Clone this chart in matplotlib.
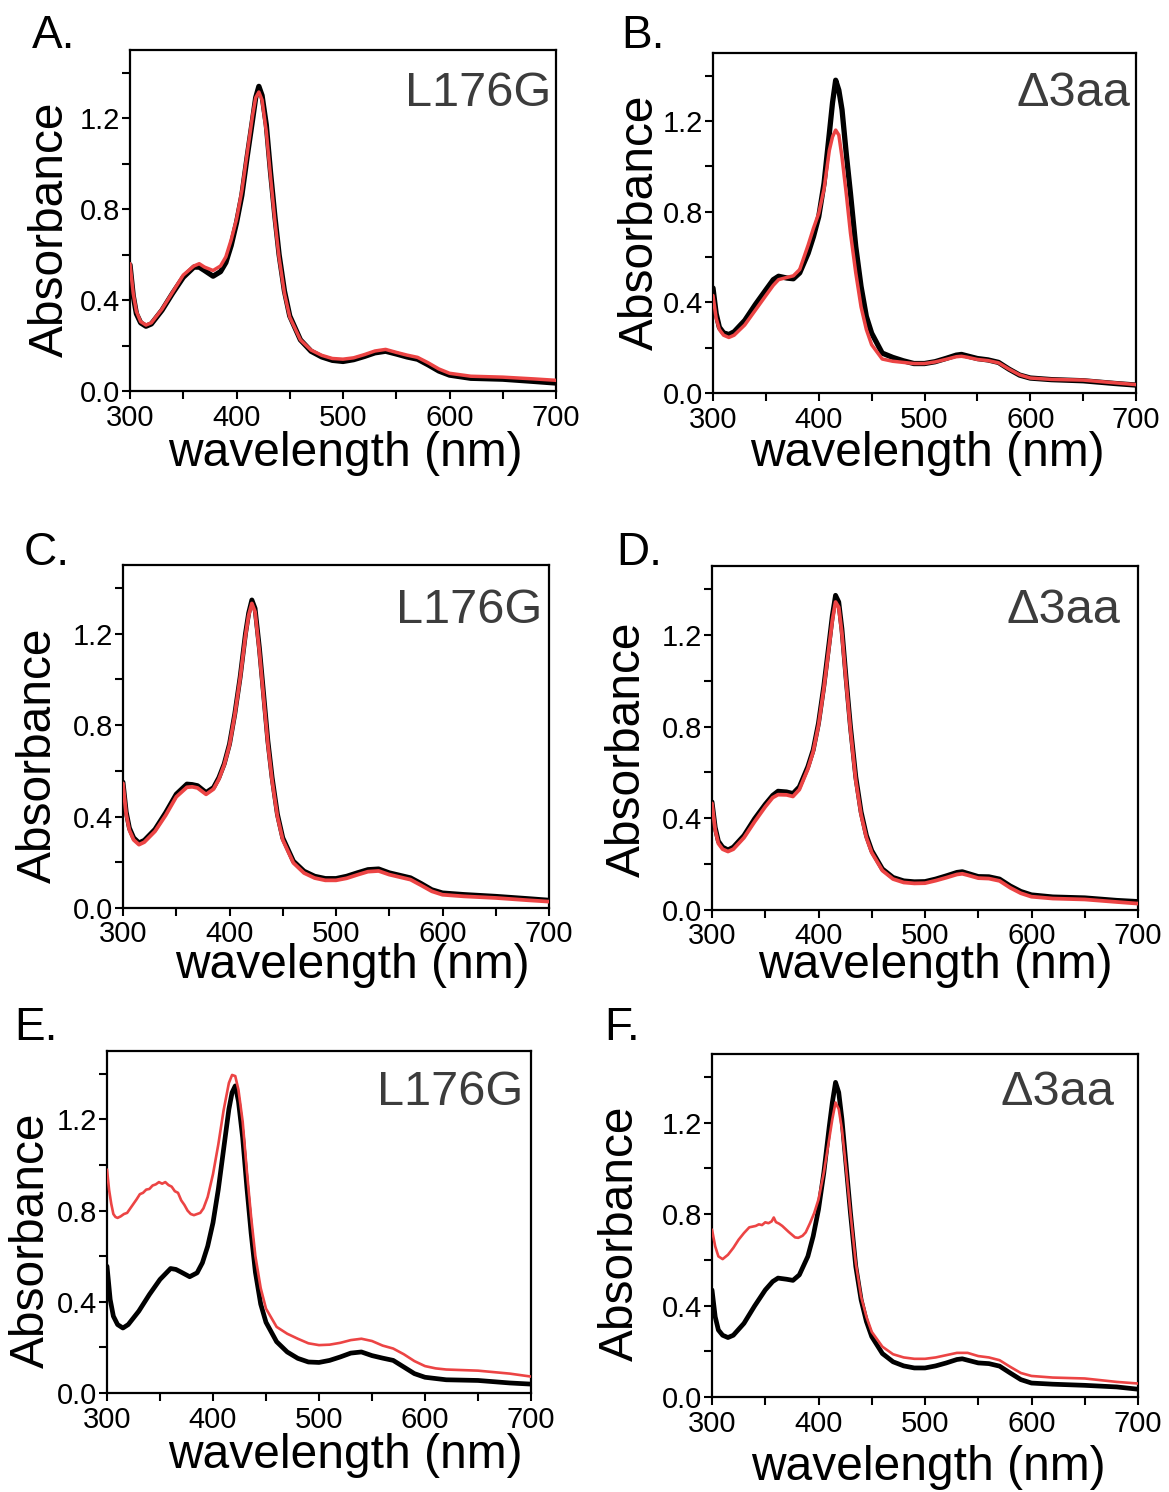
import matplotlib
matplotlib.use("Agg")
import matplotlib.pyplot as plt
from matplotlib.ticker import MultipleLocator, FixedLocator

plt.rcParams['font.family'] = ['Liberation Sans', 'DejaVu Sans']

# ---------------- data ----------------
wl_L = [300, 303, 306, 310, 315, 320, 330, 340, 350, 360, 365, 370, 378, 385, 390, 395,
        400, 405, 410, 415, 418, 421, 424, 428, 432, 436, 440, 445, 450, 460, 470, 480,
        490, 500, 510, 520, 530, 540, 550, 560, 570, 580, 590, 600, 620, 650, 680, 700]

wl_D = [300, 303, 306, 310, 315, 320, 330, 340, 350, 357, 362, 370, 376, 382, 390, 395,
        400, 405, 410, 413, 416, 419, 422, 426, 430, 435, 440, 445, 450, 460, 470, 480,
        490, 500, 510, 520, 530, 535, 540, 550, 560, 570, 580, 590, 600, 620, 650, 680, 700]

A_black = [0.555, 0.42, 0.34, 0.30, 0.285, 0.295, 0.355, 0.43, 0.50, 0.545, 0.545, 0.53, 0.505, 0.525, 0.565, 0.64,
           0.74, 0.86, 1.03, 1.19, 1.29, 1.34, 1.30, 1.17, 0.96, 0.77, 0.60, 0.44, 0.33, 0.225, 0.175, 0.15,
           0.135, 0.13, 0.138, 0.152, 0.168, 0.175, 0.163, 0.15, 0.14, 0.115, 0.088, 0.07, 0.056, 0.052, 0.042, 0.035]
A_red = [0.56, 0.43, 0.35, 0.305, 0.29, 0.30, 0.36, 0.435, 0.51, 0.55, 0.56, 0.545, 0.53, 0.55, 0.59, 0.665,
         0.755, 0.88, 1.045, 1.21, 1.29, 1.315, 1.28, 1.14, 0.94, 0.75, 0.585, 0.43, 0.325, 0.225, 0.18, 0.157,
         0.143, 0.14, 0.146, 0.16, 0.176, 0.183, 0.17, 0.158, 0.148, 0.124, 0.097, 0.078, 0.065, 0.061, 0.053, 0.047]

B_black = [0.463, 0.35, 0.29, 0.265, 0.258, 0.27, 0.32, 0.39, 0.455, 0.50, 0.515, 0.507, 0.504, 0.53, 0.617, 0.69,
           0.778, 0.925, 1.145, 1.28, 1.38, 1.336, 1.25, 1.057, 0.88, 0.646, 0.47, 0.338, 0.264, 0.176, 0.157, 0.142,
           0.13, 0.13, 0.138, 0.152, 0.167, 0.17, 0.164, 0.152, 0.146, 0.135, 0.105, 0.079, 0.066, 0.059, 0.054, 0.042, 0.035]
B_red = [0.43, 0.33, 0.28, 0.255, 0.245, 0.255, 0.30, 0.365, 0.43, 0.475, 0.50, 0.51, 0.517, 0.545, 0.653, 0.727,
         0.793, 0.90, 1.07, 1.13, 1.16, 1.138, 1.04, 0.88, 0.705, 0.53, 0.38, 0.28, 0.213, 0.15, 0.14, 0.135,
         0.13, 0.13, 0.137, 0.148, 0.16, 0.162, 0.158, 0.148, 0.143, 0.133, 0.105, 0.08, 0.066, 0.06, 0.057, 0.045, 0.037]

C_black = [0.55, 0.42, 0.35, 0.307, 0.285, 0.296, 0.344, 0.417, 0.498, 0.542, 0.54, 0.535, 0.505, 0.527, 0.57, 0.63,
           0.717, 0.85, 1.01, 1.2, 1.29, 1.347, 1.31, 1.14, 0.937, 0.732, 0.571, 0.41, 0.307, 0.205, 0.161, 0.139,
           0.129, 0.129, 0.139, 0.154, 0.168, 0.171, 0.154, 0.143, 0.132, 0.107, 0.08, 0.066, 0.059, 0.051, 0.041, 0.034]
C_red = [0.545, 0.41, 0.34, 0.298, 0.277, 0.288, 0.335, 0.405, 0.486, 0.528, 0.53, 0.525, 0.497, 0.52, 0.563, 0.625,
         0.712, 0.845, 1.005, 1.19, 1.28, 1.332, 1.295, 1.125, 0.92, 0.718, 0.557, 0.40, 0.298, 0.197, 0.153, 0.131,
         0.121, 0.121, 0.13, 0.145, 0.159, 0.162, 0.146, 0.135, 0.124, 0.099, 0.073, 0.058, 0.051, 0.044, 0.034, 0.028]

D_black = [0.471, 0.36, 0.30, 0.274, 0.262, 0.274, 0.325, 0.398, 0.461, 0.50, 0.518, 0.515, 0.508, 0.537, 0.625, 0.698,
           0.815, 0.977, 1.167, 1.284, 1.372, 1.343, 1.225, 1.006, 0.80, 0.581, 0.428, 0.325, 0.259, 0.179, 0.142, 0.127,
           0.123, 0.124, 0.135, 0.149, 0.164, 0.167, 0.16, 0.146, 0.145, 0.135, 0.105, 0.081, 0.066, 0.057, 0.053, 0.042, 0.037]
D_red = [0.465, 0.35, 0.29, 0.265, 0.255, 0.265, 0.315, 0.385, 0.45, 0.49, 0.503, 0.502, 0.495, 0.525, 0.615, 0.69,
         0.805, 0.965, 1.15, 1.262, 1.343, 1.32, 1.205, 0.99, 0.785, 0.565, 0.415, 0.315, 0.25, 0.172, 0.135, 0.12,
         0.116, 0.117, 0.128, 0.141, 0.155, 0.158, 0.152, 0.139, 0.137, 0.127, 0.097, 0.073, 0.058, 0.05, 0.046, 0.035, 0.028]

E_black = [0.556, 0.41, 0.337, 0.30, 0.285, 0.30, 0.359, 0.432, 0.498, 0.546, 0.542, 0.53, 0.51, 0.527, 0.571, 0.644,
           0.747, 0.893, 1.069, 1.245, 1.318, 1.347, 1.28, 1.12, 0.90, 0.70, 0.53, 0.39, 0.31, 0.225, 0.18, 0.152,
           0.136, 0.134, 0.143, 0.158, 0.175, 0.18, 0.164, 0.153, 0.143, 0.114, 0.085, 0.069, 0.058, 0.055, 0.044, 0.039]

wl_E_red = [300, 302, 304, 306, 308, 310, 313, 316, 319, 322, 325, 328, 331, 334, 337, 340,
            343, 346, 349, 352, 355, 358, 361, 364, 367, 370, 373, 376, 379, 382, 385, 388,
            391, 395, 400, 405, 410, 415, 418, 421, 424, 428, 432, 436, 440, 445, 450, 460,
            470, 480, 490, 500, 510, 520, 530, 540, 550, 560, 570, 580, 590, 600, 610, 620,
            650, 680, 700]
E_red = [0.98, 0.89, 0.83, 0.785, 0.772, 0.768, 0.775, 0.785, 0.79, 0.81, 0.83, 0.85, 0.872, 0.878, 0.892, 0.895,
         0.91, 0.915, 0.925, 0.918, 0.925, 0.912, 0.905, 0.885, 0.878, 0.845, 0.825, 0.80, 0.785, 0.78, 0.785, 0.79,
         0.81, 0.86, 0.96, 1.09, 1.24, 1.36, 1.395, 1.39, 1.33, 1.19, 0.97, 0.77, 0.60, 0.46, 0.37, 0.29,
         0.26, 0.238, 0.218, 0.21, 0.212, 0.22, 0.232, 0.238, 0.228, 0.208, 0.195, 0.17, 0.14, 0.118, 0.108, 0.103,
         0.098, 0.085, 0.072]

F_black = [0.468, 0.351, 0.293, 0.27, 0.26, 0.27, 0.322, 0.398, 0.468, 0.505, 0.52, 0.515, 0.51, 0.534, 0.615, 0.703,
           0.82, 0.981, 1.179, 1.288, 1.376, 1.332, 1.215, 1.01, 0.805, 0.571, 0.425, 0.33, 0.264, 0.19, 0.154, 0.136,
           0.127, 0.127, 0.136, 0.149, 0.164, 0.167, 0.161, 0.149, 0.146, 0.135, 0.105, 0.076, 0.061, 0.056, 0.051, 0.044, 0.034]

wl_F_red = [300, 303, 306, 310, 315, 320, 325, 330, 335, 338, 341, 344, 347, 350, 353, 356,
            358, 360, 363, 366, 369, 372, 375, 378, 381, 385, 388, 392, 396, 400, 405, 410,
            413, 416, 419, 422, 426, 430, 435, 440, 445, 450, 460, 470, 480, 490, 500, 510,
            520, 530, 540, 550, 560, 570, 580, 590, 600, 620, 650, 680, 700]
F_red = [0.732, 0.659, 0.615, 0.603, 0.622, 0.652, 0.688, 0.717, 0.742, 0.745, 0.748, 0.755, 0.752, 0.764, 0.76, 0.768,
         0.785, 0.765, 0.758, 0.748, 0.735, 0.722, 0.71, 0.698, 0.696, 0.705, 0.72, 0.76, 0.805, 0.864, 0.981, 1.127,
         1.215, 1.288, 1.259, 1.171, 0.996, 0.805, 0.586, 0.439, 0.351, 0.285, 0.22, 0.187, 0.173, 0.167, 0.167, 0.173,
         0.183, 0.193, 0.193, 0.179, 0.173, 0.161, 0.132, 0.105, 0.092, 0.085, 0.081, 0.066, 0.059]

panel_letters = ["A.", "B.", "C.", "D.", "E.", "F."]
panel_names = ["L176G", "\u03943aa", "L176G", "\u03943aa", "L176G", "\u03943aa"]
x_ticks = [300, 400, 500, 600, 700]
y_ticks = [0.0, 0.4, 0.8, 1.2]
y_tick_labels = ["0.0", "0.4", "0.8", "1.2"]
x_label = "wavelength (nm)"
y_label = "Absorbance"

series = [
    (wl_L, A_black, wl_L, A_red),
    (wl_D, B_black, wl_D, B_red),
    (wl_L, C_black, wl_L, C_red),
    (wl_D, D_black, wl_D, D_red),
    (wl_L, E_black, wl_E_red, E_red),
    (wl_D, F_black, wl_F_red, F_red),
]

# ---------------- layout (pixels) ----------------
W, H = 1169, 1492
# axes boxes: left, right, top, bottom
boxes = [(130, 556, 50, 391), (713, 1136, 53, 393),
         (123, 549, 565, 908), (712, 1138, 566, 910),
         (107, 531, 1051, 1393), (712, 1138, 1054, 1397)]
letter_pos = [(32, 48), (621, 48), (24, 565), (616, 565), (14, 1040), (604, 1040)]
name_pos = [(551, 106), (1130, 106), (542, 623), (1120, 623), (523, 1105), (1114, 1105)]
xlabel_pos = [(345, 454), (927, 454), (352, 966), (935, 966), (345, 1455), (928, 1468)]
ylabel_pos = [(50, 229), (640, 222), (38, 755), (627, 749), (31, 1240), (620, 1233)]
thick = [(3.8, 2.5), (3.8, 2.5), (3.5, 2.7), (3.5, 2.7), (3.4, 1.9), (3.4, 1.9)]

RED = '#EC4444'
fig = plt.figure(figsize=(W / 100, H / 100), dpi=100)

for i, (bx, (wb, yb, wr, yr)) in enumerate(zip(boxes, series)):
    l, r, t, b = bx
    ax = fig.add_axes([l / W, 1 - b / H, (r - l) / W, (b - t) / H])
    ax.plot(wb, yb, color='black', lw=thick[i][0], solid_capstyle='round', solid_joinstyle='round', zorder=2)
    ax.plot(wr, yr, color=RED, lw=thick[i][1], solid_capstyle='round', solid_joinstyle='round', zorder=3)
    ax.set_xlim(300, 700)
    ax.set_ylim(0, 1.5)
    ax.xaxis.set_major_locator(FixedLocator(x_ticks))
    ax.xaxis.set_minor_locator(MultipleLocator(50))
    ax.yaxis.set_major_locator(FixedLocator(y_ticks))
    ax.set_yticklabels(y_tick_labels)
    ax.yaxis.set_minor_locator(MultipleLocator(0.2))
    ax.tick_params(which='both', direction='out', length=6, width=1.5, top=False, right=False)
    ax.tick_params(axis='y', which='major', labelsize=21, pad=1)
    ax.tick_params(axis='x', which='major', labelsize=21, pad=3)
    for s in ax.spines.values():
        s.set_linewidth(1.6)
    ax.text(name_pos[i][0] / W, 1 - name_pos[i][1] / H, panel_names[i], transform=fig.transFigure,
            ha='right', va='baseline', fontsize=35, color='#3c3c3c')
    fig.text(letter_pos[i][0] / W, 1 - letter_pos[i][1] / H, panel_letters[i],
             ha='left', va='baseline', fontsize=33, color='black')
    fig.text(xlabel_pos[i][0] / W, 1 - xlabel_pos[i][1] / H, x_label,
             ha='center', va='center', fontsize=34.5)
    fig.text(ylabel_pos[i][0] / W, 1 - ylabel_pos[i][1] / H, y_label,
             ha='center', va='center', rotation=90, fontsize=34.5)

fig.savefig("out.png", dpi=100)
